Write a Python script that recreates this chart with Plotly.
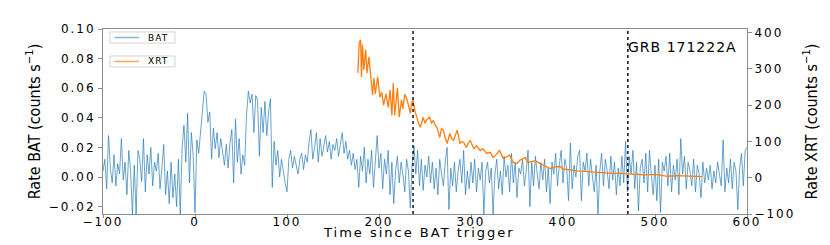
import plotly.graph_objects as go

# ---------------- data ----------------
bat_time = list(range(-100, 602, 2))
bat_rate = [
    0.004, 0.012, -0.008, 0.028, 0.006, -0.004, 0.015, -0.006, 0.009, 0.002,
    0.026, -0.002, 0.010, -0.012, 0.018, 0.004, -0.025, 0.008, -0.025, 0.018,
    0.012, -0.003, 0.026, -0.010, 0.015, 0.002, 0.020, -0.006, 0.010, 0.004,
    0.016, -0.008, 0.006, 0.022, -0.012, 0.004, -0.018, 0.010, -0.014, 0.002,
    -0.020, 0.012, -0.025, 0.020, 0.035, 0.010, 0.043, -0.004, 0.030, 0.015,
    -0.024, 0.025, 0.016, 0.030, 0.040, 0.058, 0.056, 0.037, 0.044, 0.012,
    0.033, 0.019, 0.030, 0.013, 0.026, 0.018, 0.008, 0.022, 0.006, 0.023,
    0.032, -0.004, 0.039, 0.010, 0.026, 0.002, 0.015, 0.008, 0.042, 0.058,
    0.050, 0.056, 0.030, 0.055, 0.052, 0.014, 0.047, 0.030, 0.051, 0.028,
    0.044, 0.053, -0.007, 0.024, 0.008, 0.018, 0.000, 0.012, 0.002, -0.004,
    -0.010, 0.012, 0.018, 0.006, 0.014, 0.008, 0.002, 0.012, 0.016, 0.005,
    0.015, 0.010, 0.024, 0.032, 0.012, 0.020, 0.030, 0.010, 0.026, 0.014,
    0.020, 0.028, 0.017, 0.024, 0.012, 0.022, 0.018, 0.026, 0.014, 0.022,
    0.030, 0.016, 0.024, 0.012, 0.018, 0.008, 0.016, 0.005, 0.012, -0.007,
    0.014, 0.004, 0.020, -0.004, 0.012, 0.002, 0.018, -0.007, 0.010, 0.028,
    0.006, 0.016, -0.008, 0.012, 0.002, 0.018, -0.012, 0.010, -0.018, 0.004,
    0.014, -0.004, 0.010, 0.002, -0.010, 0.012, 0.004, -0.021, 0.008, 0.021,
    0.002, 0.018, -0.006, 0.012, -0.009, 0.008, 0.000, 0.014, -0.004, 0.010,
    -0.008, 0.006, -0.012, 0.012, 0.002, -0.006, 0.010, 0.020, -0.022, 0.006,
    -0.006, 0.010, -0.010, 0.004, 0.012, -0.004, 0.018, -0.012, 0.004, -0.008,
    0.010, -0.004, 0.012, -0.010, 0.006, -0.002, 0.010, -0.025, 0.004, 0.010,
    -0.004, 0.006, -0.025, 0.002, 0.012, -0.008, 0.004, -0.012, 0.014, 0.000,
    0.008, -0.010, 0.016, -0.004, 0.010, -0.014, 0.006, 0.002, 0.012, -0.006,
    0.004, 0.018, -0.020, 0.010, -0.006, 0.014, 0.002, -0.008, 0.010, -0.002,
    0.012, -0.010, 0.006, -0.018, 0.010, 0.002, 0.016, -0.006, 0.008, 0.018,
    -0.004, 0.012, 0.006, -0.016, 0.023, -0.008, 0.008, 0.000, 0.014, 0.018,
    -0.016, 0.010, 0.004, 0.016, -0.006, 0.012, 0.000, -0.010, 0.008, -0.025,
    0.004, 0.016, -0.006, 0.012, 0.004, -0.008, 0.014, -0.002, 0.010, -0.012,
    0.006, -0.006, 0.014, -0.004, 0.024, -0.010, 0.014, 0.002, 0.018, -0.008,
    0.010, -0.023, 0.006, 0.012, -0.004, 0.016, -0.010, 0.018, 0.002, -0.012,
    0.008, -0.016, 0.012, -0.024, 0.010, 0.004, 0.014, -0.006, 0.016, -0.010,
    0.008, -0.002, 0.012, -0.012, 0.026, 0.002, 0.014, -0.008, 0.010, 0.004,
    -0.006, 0.012, -0.010, 0.008, 0.002, -0.014, 0.010, -0.004, 0.006, -0.002,
    0.008, -0.008, 0.004, -0.004, 0.010, 0.000, -0.006, 0.025, -0.010, 0.006,
    -0.004, 0.012, -0.008, 0.010, 0.004, -0.022, 0.006, 0.016, -0.006, 0.018,
    0.020,
]

xrt_time = [177, 178.5, 180, 181, 182, 183.5, 185.5, 187, 189, 191, 193, 194.5, 196,
            198.5, 201, 203, 205, 207.5, 210, 212, 214, 215.5, 217, 220, 222, 224.5,
            226, 228, 230, 232, 234, 235.5, 237, 239, 241, 243, 245, 248, 250, 252,
            255, 257, 259, 261, 263, 266, 268, 270, 272, 274, 277, 279, 281, 283,
            285, 288, 290, 292, 295, 297, 299, 303, 306, 310, 313, 317, 321, 324,
            328, 331, 335, 339, 342, 346, 350, 353, 357, 359, 362, 366, 370, 375,
            380, 386, 392, 397, 400, 404, 410, 415, 420, 426, 433, 440, 447, 454,
            462, 469, 478, 489, 500, 507, 514, 525, 533, 540, 551]
xrt_rate = [289, 372, 380, 278, 367, 297, 353, 289, 333, 278, 228, 275, 231, 278,
            222, 236, 200, 231, 194, 242, 172, 261, 172, 247, 167, 215, 190, 230,
            219, 200, 178, 206, 214, 185, 167, 150, 139, 167, 150, 160, 167, 150,
            158, 145, 139, 111, 135, 131, 110, 94, 122, 108, 103, 118, 131, 94,
            100, 98, 83, 95, 103, 80, 88, 75, 80, 67, 70, 56, 65, 75, 53, 58, 62,
            42, 39, 48, 53, 56, 42, 44, 47, 39, 33, 25, 30, 31, 24, 22, 21, 19, 18,
            18, 15, 14, 13, 12, 12, 11, 11, 8, 9, 7, 4, 6, 5, 6, 3]

x_ticks = [-100, 0, 100, 200, 300, 400, 500, 600]
x_tick_labels = ["−100", "0", "100", "200", "300", "400", "500", "600"]
bat_ticks = [-0.02, 0.0, 0.02, 0.04, 0.06, 0.08, 0.10]
bat_tick_labels = ["−0.02", "0.00", "0.02", "0.04", "0.06", "0.08", "0.10"]
xrt_ticks = [-100, 0, 100, 200, 300, 400]
xrt_tick_labels = ["−100", "0", "100", "200", "300", "400"]
event_lines = [237, 470.5]
grb_label = "GRB 171222A"
x_title = "Time since BAT trigger"
series_names = ["BAT", "XRT"]

assert len(bat_time) == len(bat_rate), (len(bat_time), len(bat_rate))
assert len(xrt_time) == len(xrt_rate), (len(xrt_time), len(xrt_rate))

# ---------------- figure ----------------
FONT = "DejaVu Sans"
COND = "DejaVu Sans Condensed"
AX = "#8c8c8c"
BAT_COLOR = "rgba(31,119,180,0.75)"
XRT_COLOR = "#ff7f0e"


def wide(s, px):
    """Slightly letter-spaced text (the reference text is drawn wide)."""
    return f'<span style="letter-spacing:{px}px">{s}</span>'


fig = go.Figure()
fig.add_trace(go.Scatter(
    x=bat_time, y=bat_rate, name=series_names[0], mode="lines",
    line=dict(color=BAT_COLOR, width=0.9), showlegend=False,
))
fig.add_trace(go.Scatter(
    x=xrt_time, y=xrt_rate, name=series_names[1], mode="lines", yaxis="y2",
    line=dict(color=XRT_COLOR, width=1.3), showlegend=False,
))

for xv in event_lines:
    fig.add_shape(type="line", xref="x", yref="paper", x0=xv, x1=xv, y0=0, y1=1,
                  line=dict(color="black", width=1.4, dash="dot"))

fig.add_annotation(x=event_lines[1], xref="x", y=0.905, yref="paper",
                   text=wide(grb_label, 1), showarrow=False,
                   xanchor="left", yanchor="middle", xshift=-2,
                   font=dict(family=FONT, size=14, color="black"))

# x-axis title, placed tight under the tick labels as in the reference
fig.add_annotation(x=0.49, xref="paper", y=-0.10, yref="paper", text=wide(x_title, 2),
                   showarrow=False, xanchor="center", yanchor="middle",
                   font=dict(family=FONT, size=13, color="black"))

# two small legend boxes (one per series), as in the reference
legend_boxes = [
    (series_names[0], "rgba(31,119,180,0.55)", 0.924, 0.984),
    (series_names[1], "rgba(255,127,14,0.7)", 0.795, 0.854),
]
for name, col, y0, y1 in legend_boxes:
    ym = (y0 + y1) / 2
    fig.add_shape(type="rect", xref="paper", yref="paper",
                  x0=0.0109, x1=0.1118, y0=y0, y1=y1,
                  line=dict(color="#d4d4d4", width=1), fillcolor="white", layer="above")
    fig.add_shape(type="line", xref="paper", yref="paper",
                  x0=0.0180, x1=0.0560, y0=ym, y1=ym,
                  line=dict(color=col, width=1.5), layer="above")
    fig.add_annotation(x=0.0855, xref="paper", y=ym, yref="paper", text=wide(name, 1),
                       showarrow=False, xanchor="center", yanchor="middle",
                       font=dict(family=FONT, size=9, color="black"))

fig.update_layout(
    width=822, height=237,
    margin=dict(l=95, r=83, t=21, b=31),
    paper_bgcolor="white", plot_bgcolor="white",
    font=dict(family=FONT, size=13, color="black"),
    showlegend=False,
    xaxis=dict(
        range=[-100, 600], tickvals=x_ticks,
        ticktext=[wide(t, 2) for t in x_tick_labels],
        showgrid=False, zeroline=False,
        showline=True, linecolor=AX, linewidth=1, mirror=True,
        ticks="outside", ticklen=3, tickcolor=AX, automargin=False,
        ticklabelstandoff=-6,
        tickfont=dict(family=FONT, size=12),
    ),
    yaxis=dict(
        range=[-0.025, 0.1], tickvals=bat_ticks,
        ticktext=[wide(t, 2) for t in bat_tick_labels],
        showgrid=False, zeroline=False,
        showline=True, linecolor=AX, linewidth=1,
        ticks="outside", ticklen=4, tickcolor=AX, automargin=False,
        tickfont=dict(family=FONT, size=12),
        title=dict(text="Rate BAT (counts s<sup>−1</sup>)",
                   font=dict(family=COND, size=16), standoff=4),
    ),
    yaxis2=dict(
        range=[-100, 410], tickvals=xrt_ticks,
        ticktext=[wide(t, 2) for t in xrt_tick_labels],
        overlaying="y", side="right",
        showgrid=False, zeroline=False,
        showline=True, linecolor=AX, linewidth=1,
        ticks="outside", ticklen=4, tickcolor=AX, automargin=False,
        tickfont=dict(family=FONT, size=12),
        title=dict(text="Rate XRT (counts s<sup>−1</sup>)",
                   font=dict(family=COND, size=16), standoff=11),
    ),
)

fig.write_html("out.html")
